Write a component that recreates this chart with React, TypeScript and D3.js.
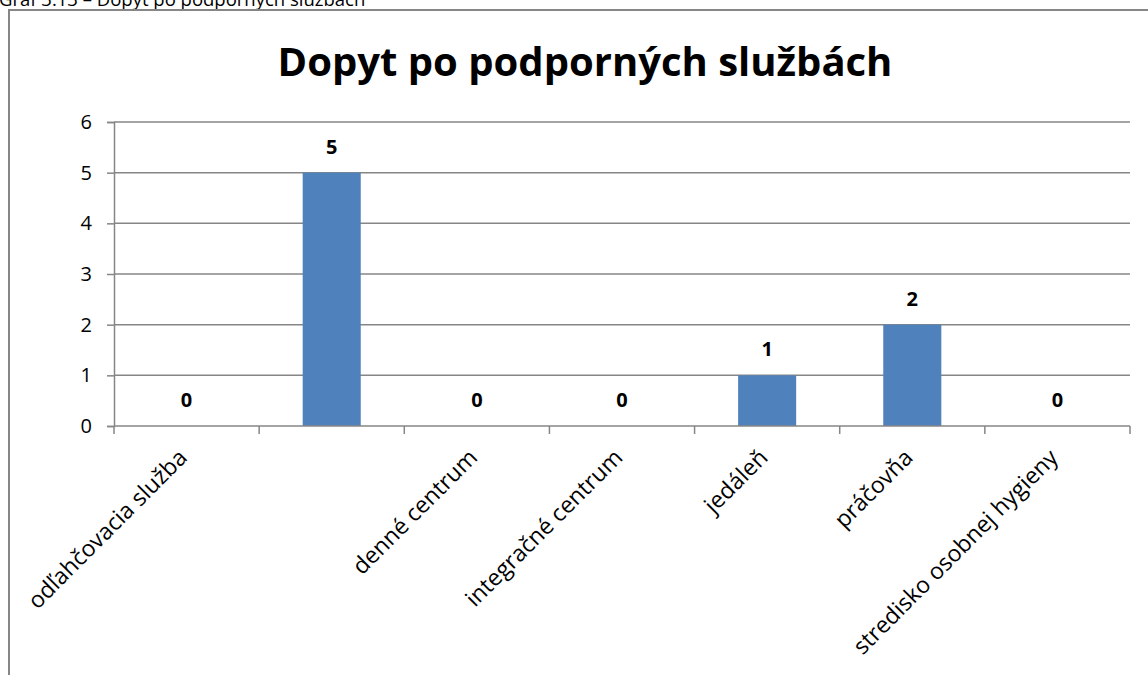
import React, { useEffect, useRef } from 'react';
import * as d3 from 'd3';

const categories = [
  'odľahčovacia služba',
  '',
  'denné centrum',
  'integračné centrum',
  'jedáleň',
  'práčovňa',
  'stredisko osobnej hygieny',
];
const values = [0, 5, 0, 0, 1, 2, 0];
const yTicks = [0, 1, 2, 3, 4, 5, 6];

const chartTitle = 'Dopyt po podporných službách';
const caption = 'Graf 3.13 – Dopyt po podporných službách';

const App = () => {
  const svgRef = useRef<SVGSVGElement>(null);

  useEffect(() => {
    const svg = d3.select(svgRef.current);
    svg.selectAll('*').remove();

    const W = 1148;
    const H = 675;
    const font = '"Open Sans", Lato, sans-serif';
    const grey = '#868686';

    // plot area
    const left = 114;
    const right = 1130;
    const top = 122;
    const bottom = 426;

    svg.attr('width', W).attr('height', H);

    // caption above the frame (cut off at top, as in the source)
    svg.append('text')
      .attr('x', -1)
      .attr('y', 6)
      .style('font-family', font)
      .style('font-size', '18.5px')
      .attr('fill', '#000')
      .text(caption);

    // chart frame
    svg.append('rect')
      .attr('x', 9)
      .attr('y', 10)
      .attr('width', 1160)
      .attr('height', 700)
      .attr('fill', '#fff')
      .attr('stroke', grey)
      .attr('stroke-width', 2);

    svg.append('text')
      .attr('x', 585)
      .attr('y', 76)
      .attr('text-anchor', 'middle')
      .style('font-family', font)
      .style('font-size', '40px')
      .style('font-weight', 'bold')
      .text(chartTitle);

    const x = d3.scaleBand<number>()
      .domain(d3.range(categories.length))
      .range([left, right])
      .paddingInner(0.6)
      .paddingOuter(0.3);

    const band = d3.scaleBand<number>()
      .domain(d3.range(categories.length))
      .range([left, right]);

    const y = d3.scaleLinear().domain([0, 6]).range([bottom, top]);

    // y axis with ticks
    const yAxis = svg.append('g')
      .attr('transform', `translate(${left},0)`)
      .call(d3.axisLeft(y).tickValues(yTicks).tickSize(7).tickFormat(d3.format('d')));
    yAxis.select('.domain').attr('stroke', grey).attr('stroke-width', 1.5);
    yAxis.selectAll('line').attr('stroke', grey).attr('stroke-width', 1.5);
    yAxis.selectAll('text')
      .style('font-family', font)
      .style('font-size', '20px')
      .attr('fill', '#000')
      .attr('x', -22);

    // gridlines
    svg.append('g')
      .selectAll('line')
      .data(yTicks.filter(t => t > 0))
      .join('line')
      .attr('x1', left)
      .attr('x2', right)
      .attr('y1', d => y(d))
      .attr('y2', d => y(d))
      .attr('stroke', grey)
      .attr('stroke-width', 1.5);

    // bars
    svg.append('g')
      .selectAll('rect')
      .data(values)
      .join('rect')
      .attr('x', (_, i) => x(i)!)
      .attr('width', x.bandwidth())
      .attr('y', d => y(d))
      .attr('height', d => bottom - y(d))
      .attr('fill', '#4F81BD');

    // x axis line and ticks at category boundaries
    svg.append('line')
      .attr('x1', left)
      .attr('x2', right)
      .attr('y1', bottom)
      .attr('y2', bottom)
      .attr('stroke', grey)
      .attr('stroke-width', 1.5);

    const bounds = d3.range(categories.length + 1).map(i => left + i * band.bandwidth());
    svg.append('g')
      .selectAll('line')
      .data(bounds)
      .join('line')
      .attr('x1', d => d)
      .attr('x2', d => d)
      .attr('y1', bottom)
      .attr('y2', bottom + 8)
      .attr('stroke', grey)
      .attr('stroke-width', 1.5);

    // data labels
    svg.append('g')
      .selectAll('text')
      .data(values)
      .join('text')
      .attr('x', (_, i) => band(i)! + band.bandwidth() / 2)
      .attr('y', d => y(d) - 19)
      .attr('text-anchor', 'middle')
      .style('font-family', font)
      .style('font-size', '20px')
      .style('font-weight', 'bold')
      .text(d => d);

    // rotated category labels
    svg.append('g')
      .selectAll('text')
      .data(categories)
      .join('text')
      .attr('transform', (_, i) => {
        const cx = band(i)! + band.bandwidth() / 2;
        return `translate(${cx + 2},${bottom + 33}) rotate(-45)`;
      })
      .attr('text-anchor', 'end')
      .style('font-family', font)
      .style('font-size', '23px')
      .text(d => d);
  }, []);

  return (
    <svg ref={svgRef} style={{ position: 'absolute', left: 0, top: 0, background: '#fff' }} />
  );
};

export default App;
